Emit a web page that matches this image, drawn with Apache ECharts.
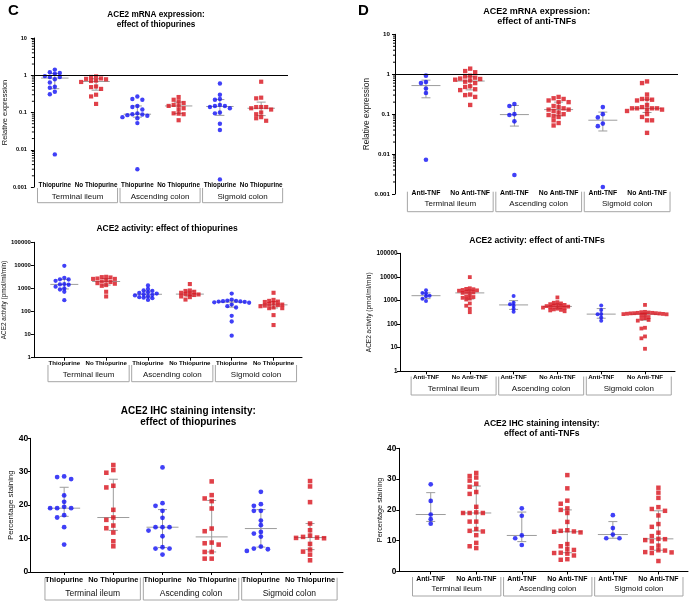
<!DOCTYPE html>
<html><head><meta charset="utf-8">
<script src="https://cdn.jsdelivr.net/npm/echarts@6/dist/echarts.min.js"></script>
<style>html,body{margin:0;padding:0;background:#fff}#c{width:689px;height:601px}</style>
</head><body><div id="c"></div>
<script>
// ---------------- data ----------------
const regions = ['Terminal ileum', 'Ascending colon', 'Sigmoid colon'];
const catsThio = ['Thiopurine', 'No Thiopurine', 'Thiopurine', 'No Thiopurine', 'Thiopurine', 'No Thiopurine'];
const catsTNF = ['Anti-TNF', 'No Anti-TNF', 'Anti-TNF', 'No Anti-TNF', 'Anti-TNF', 'No Anti-TNF'];

const ticksMrna = [0.001, 0.01, 0.1, 1, 10];
const ticksAct = [1, 10, 100, 1000, 10000, 100000];
const ticksIhc = [0, 10, 20, 30, 40];

// ACE2 mRNA expression, thiopurines (TI yes/no, AC yes/no, SC yes/no)
const mrnaThio = [
  [1.42, 1.2, 1.15, 1.1, 0.95, 0.9, 0.9, 0.78, 0.64, 0.49, 0.46, 0.36, 0.31, 0.0075],
  [0.93, 0.9, 0.82, 0.8, 0.78, 0.72, 0.7, 0.66, 0.5, 0.48, 0.43, 0.3, 0.27, 0.17],
  [0.27, 0.23, 0.22, 0.15, 0.14, 0.12, 0.095, 0.09, 0.088, 0.085, 0.082, 0.075, 0.07, 0.052, 0.003],
  [0.26, 0.22, 0.2, 0.18, 0.16, 0.155, 0.15, 0.13, 0.12, 0.095, 0.093, 0.09, 0.062],
  [0.6, 0.3, 0.23, 0.22, 0.16, 0.15, 0.15, 0.14, 0.13, 0.1, 0.095, 0.05, 0.034, 0.0016],
  [0.67, 0.25, 0.24, 0.14, 0.14, 0.14, 0.13, 0.12, 0.1, 0.09, 0.075, 0.07, 0.06]
];
// ACE2 mRNA expression, anti-TNFs
const mrnaTNF = [
  [0.92, 0.64, 0.6, 0.44, 0.34, 0.0072],
  [1.38, 1.2, 1.12, 0.92, 0.88, 0.82, 0.78, 0.76, 0.73, 0.7, 0.65, 0.6, 0.5, 0.48, 0.42, 0.4, 0.31, 0.3, 0.27, 0.17],
  [0.18, 0.16, 0.1, 0.095, 0.066, 0.003],
  [0.27, 0.25, 0.24, 0.22, 0.2, 0.2, 0.16, 0.15, 0.14, 0.13, 0.13, 0.12, 0.11, 0.1, 0.095, 0.09, 0.085, 0.07, 0.06, 0.052],
  [0.15, 0.1, 0.083, 0.058, 0.05, 0.0015],
  [0.66, 0.6, 0.31, 0.24, 0.24, 0.23, 0.22, 0.17, 0.15, 0.14, 0.14, 0.14, 0.14, 0.13, 0.13, 0.12, 0.1, 0.085, 0.07, 0.07, 0.034]
];
// ACE2 activity (pmol/ml/min), thiopurines
const actThio = [
  [9600, 2900, 2500, 2450, 2150, 1550, 1500, 1450, 1200, 1000, 900, 720, 310],
  [3200, 3100, 3000, 2700, 2600, 2600, 2200, 2000, 1900, 1700, 1600, 1400, 1300, 720, 450],
  [1350, 950, 820, 780, 680, 640, 600, 560, 530, 500, 460, 420, 400, 380, 320],
  [1550, 820, 780, 720, 650, 580, 560, 550, 520, 450, 420, 330],
  [600, 330, 300, 290, 280, 275, 270, 260, 250, 240, 200, 170, 150, 65, 37, 9],
  [650, 320, 290, 270, 260, 230, 210, 200, 190, 180, 170, 150, 140, 140, 70, 26]
];
// ACE2 activity (pmol/ml/min), anti-TNFs
const actTNF = [
  [2700, 2100, 2000, 1600, 1500, 1200, 950],
  [9800, 3300, 3100, 3000, 2800, 2700, 2600, 2400, 2300, 2200, 2100, 1700, 1500, 1400, 1300, 1200, 1100, 750, 600, 450, 320],
  [1550, 800, 700, 600, 450, 330],
  [1350, 850, 800, 750, 700, 650, 620, 600, 580, 560, 550, 520, 500, 480, 450, 420, 400, 380, 350],
  [620, 400, 270, 260, 190, 140],
  [650, 330, 320, 310, 300, 300, 290, 290, 285, 280, 275, 270, 265, 260, 250, 240, 200, 180, 170, 150, 140, 70, 65, 30, 25, 9]
];
// ACE2 IHC percentage staining, thiopurines
const ihcThio = [
  [28.6, 28.4, 27.8, 22.9, 21, 19.5, 19.1, 19.1, 19.1, 17, 16.3, 13.4, 8.2],
  [32, 30.5, 29.7, 25.8, 25.3, 18.6, 16.3, 15.6, 13.9, 13.1, 11.8, 9.2, 7.7],
  [31.3, 20.6, 19.8, 18.3, 16.2, 13.4, 13.4, 13.4, 12.4, 10.7, 7.4, 7, 7, 5.2],
  [27.1, 23, 22, 21.2, 19, 13, 12.2, 8.8, 8.6, 8.2, 6, 6, 4, 4],
  [24, 20.3, 19.8, 18.3, 18.3, 15.4, 14, 12, 11.5, 10.6, 7.6, 7, 6.8, 6.3],
  [27.2, 25.6, 20.9, 14.5, 12.5, 10.9, 10.5, 10.3, 10.2, 10.1, 8.4, 6.7, 6.1, 5.2, 3.5]
];
// ACE2 IHC percentage staining, anti-TNFs
const ihcTNF = [
  [28.3, 22.9, 18.5, 17, 15.5],
  [32, 31, 30.5, 29.5, 28.5, 27.5, 25.8, 25.2, 21, 19.2, 19, 19, 19, 16.2, 16.2, 13.8, 13.2, 13, 11.8, 9.3, 8.2, 7.6],
  [20.5, 18.1, 11.7, 10.8, 8.6],
  [31.3, 27, 23, 22, 20.5, 20, 19, 16.1, 13.4, 13.2, 13, 12.9, 12.7, 8.9, 8.2, 7.3, 7, 6.1, 6, 5.8, 5.2, 4, 3.8],
  [18.3, 14.1, 12, 10.8, 10.8],
  [27.2, 25.6, 23.9, 20.9, 20.3, 19.7, 18.2, 15.4, 14.5, 12.6, 11.5, 10.6, 10.5, 10.2, 9.8, 8.4, 7.6, 6.9, 6.8, 6.3, 6.2, 6, 3.4]
];

// ---------------- layout / style ----------------
const FONT = '"Liberation Sans", Arial, sans-serif';
const BLUE = '#1010f5', RED = '#d8121c', GRAY = '#9c9c9c', BOXC = '#a6a6a6';

const panels = [
  {cats: catsThio, values: mrnaThio, ticks: ticksMrna, log: true, ref: 1, minor: true,
   grid: {left: 33, top: 38, width: 255, height: 149}, xMin: -0.507, xMax: 5.65, xLine: false,
   title: 'ACE2 mRNA expression:\neffect of thiopurines', tx: 156, ty: 10, tSize: 8.2, tLH: 10,
   yName: 'Relative expression', yNameSize: 7.5, yNameGap: 24, yLabMargin: 7,
   tickSize: 5.6, catSize: 6.3, catMargin: -5,
   box: {top: 1, bot: 15.7, lab: 9.7, shift: 0.05, size: 8},
   sym: 4.4, sx: 5.0, vf: 0.9, medHW: 13.7},
  {cats: catsTNF, values: mrnaTNF, ticks: ticksMrna, log: true, ref: 1, minor: true,
   grid: {left: 395, top: 34.3, width: 283, height: 159.7}, xMin: -0.70, xMax: 5.70, xLine: false,
   title: 'ACE2 mRNA expression:\neffect of anti-TNFs', tx: 536.7, ty: 6.7, tSize: 9, tLH: 10,
   yName: 'Relative expression', yNameSize: 8.3, yNameGap: 20, yLabMargin: 5,
   tickSize: 6.2, catSize: 6.8, catMargin: -4,
   box: {top: -2.3, bot: 17.7, lab: 10, shift: 0.05, size: 8},
   sym: 4.6, sx: 5.0, vf: 0.9, medHW: 14.5},
  {cats: catsThio, values: actThio, ticks: ticksAct, log: true,
   grid: {left: 31, top: 242.3, width: 271, height: 115.4}, xMin: -0.726, xMax: 5.68, xLine: true,
   title: 'ACE2 activity: effect of thiopurines', tx: 167, ty: 224, tSize: 8.5, tLH: 10,
   yName: 'ACE2 activity (pmol/ml/min)', yNameSize: 6.4, yNameGap: 25.5, yLabMargin: 3,
   tickSize: 6, catSize: 6.1, catMargin: 2.5,
   box: {top: 7.3, bot: 24, lab: 17.3, shift: 0.08, size: 8},
   sym: 4.3, sx: 4.4, vf: 0.75, medHW: 14},
  {cats: catsTNF, values: actTNF, ticks: ticksAct, log: true,
   grid: {left: 400, top: 253.3, width: 275, height: 118}, xMin: -0.594, xMax: 5.685, xLine: true,
   title: 'ACE2 activity: effect of anti-TNFs', tx: 537, ty: 235.7, tSize: 8.6, tLH: 10,
   yName: 'ACE2 activity (pmol/ml/min)', yNameSize: 6.5, yNameGap: 25, yLabMargin: 2.5,
   tickSize: 6.3, catSize: 6.2, catMargin: 2.5,
   box: {top: 5.2, bot: 23.7, lab: 17.3, shift: 0.13, size: 8},
   sym: 4.0, sx: 3.6, vf: 0.7, medHW: 14.5},
  {cats: catsThio, values: ihcThio, ticks: ticksIhc, log: false, interval: 10,
   grid: {left: 30.7, top: 438.3, width: 312.3, height: 133.7}, xMin: -0.68, xMax: 5.67, xLine: true,
   title: 'ACE2 IHC staining intensity:\neffect of thiopurines', tx: 188.3, ty: 405.4, tSize: 10, tLH: 11.3,
   yName: 'Percentage staining', yNameSize: 7.9, yNameGap: 15, yLabMargin: 2.5,
   tickSize: 8.5, catSize: 7.4, catMargin: 4.5,
   box: {top: 5.7, bot: 28, lab: 21.3, shift: 0.08, size: 8.5},
   sym: 4.8, sx: 7, vf: 0.95, medHW: 16},
  {cats: catsTNF, values: ihcTNF, ticks: ticksIhc, log: false, interval: 10,
   grid: {left: 399.3, top: 448.3, width: 288.7, height: 123.2}, xMin: -0.69, xMax: 5.65, xLine: true,
   title: 'ACE2 IHC staining intensity:\neffect of anti-TNFs', tx: 541.7, ty: 418.3, tSize: 8.6, tLH: 10,
   yName: 'Percentage staining', yNameSize: 7.3, yNameGap: 14, yLabMargin: 3,
   tickSize: 8.3, catSize: 6.9, catMargin: 4,
   box: {top: 5.5, bot: 24.5, lab: 17.5, shift: 0.07, size: 7.8},
   sym: 4.7, sx: 6.6, vf: 0.95, medHW: 15}
];

// ---------------- helpers ----------------
function pct(sorted, p) {
  const n = sorted.length;
  let r = p * (n + 1);
  if (r < 1) r = 1;
  if (r > n) r = n;
  const lo = Math.floor(r), hi = Math.ceil(r);
  return sorted[lo - 1] + (r - lo) * (sorted[hi - 1] - sorted[lo - 1]);
}
function yFrac(p, v) {
  const lo = p.ticks[0], hi = p.ticks[p.ticks.length - 1];
  return p.log ? (Math.log10(v) - Math.log10(lo)) / (Math.log10(hi) - Math.log10(lo)) : (v - lo) / (hi - lo);
}
// Dot-plot layout: each point goes to the nearest free column slot (0, -1, +1, -2, ...)
// where it does not overlap an already placed point vertically.
function swarm(vals, p) {
  const H = p.grid.height;
  const pts = vals.map(v => ({v: v, y: H * (1 - yFrac(p, v))})).sort((a, b) => a.y - b.y);
  const placed = [];
  const order = [0, -1, 1, -2, 2, -3, 3, -4, 4, -5, 5, -6, 6, -7, 7];
  pts.forEach(pt => {
    for (const s of order) {
      if (!placed.some(q => q.s === s && Math.abs(q.y - pt.y) < p.sym * p.vf)) { pt.s = s; break; }
    }
    placed.push(pt);
    pt.dx = pt.s * p.sx;
  });
  return pts;
}
const fmtTick = v => String(+Number(v).toPrecision(4));

// ---------------- option ----------------
const option = {animation: false, backgroundColor: '#fff', title: [], grid: [], xAxis: [], yAxis: [], series: []};
option.title.push({text: 'C', left: 8, top: 3, padding: 0, textStyle: {fontSize: 15, fontWeight: 'bold', fontFamily: FONT, color: '#000'}});
option.title.push({text: 'D', left: 358, top: 3, padding: 0, textStyle: {fontSize: 15, fontWeight: 'bold', fontFamily: FONT, color: '#000'}});

panels.forEach((p, i) => {
  const yMin = p.ticks[0], yMax = p.ticks[p.ticks.length - 1];
  const stepPx = p.grid.width / (p.xMax - p.xMin);
  option.title.push({text: p.title, left: p.tx, top: p.ty, padding: 0, textAlign: 'center',
    textStyle: {fontSize: p.tSize, fontWeight: 'bold', lineHeight: p.tLH, fontFamily: FONT, color: '#000'}});
  option.grid.push({left: p.grid.left, top: p.grid.top, width: p.grid.width, height: p.grid.height});
  option.xAxis.push({type: 'value', gridIndex: i, min: p.xMin, max: p.xMax,
    splitLine: {show: false},
    axisLine: {show: p.xLine, onZero: false, lineStyle: {color: '#000', width: 1}},
    axisTick: {show: p.xLine, customValues: [0, 1, 2, 3, 4, 5], length: 3, lineStyle: {color: '#000'}},
    axisLabel: {customValues: [0, 1, 2, 3, 4, 5], formatter: v => p.cats[Math.round(v)],
      fontSize: p.catSize, fontWeight: 'bold', fontFamily: FONT, color: '#000', margin: p.catMargin}});
  const ya = {type: p.log ? 'log' : 'value', gridIndex: i, min: yMin, max: yMax,
    splitLine: {show: false},
    axisLine: {show: true, onZero: false, lineStyle: {color: '#000', width: 1}},
    axisTick: {show: true, length: 3, lineStyle: {color: '#000'}},
    axisLabel: {formatter: fmtTick, fontSize: p.tickSize, fontWeight: 'bold', fontFamily: FONT, color: '#000', margin: p.yLabMargin},
    name: p.yName, nameLocation: 'middle', nameGap: p.yNameGap, nameRotate: 90,
    nameTextStyle: {fontSize: p.yNameSize, fontFamily: FONT, color: '#111'}};
  if (p.log) ya.logBase = 10; else ya.interval = p.interval;
  option.yAxis.push(ya);

  // scatter points
  const blue = [], red = [], stats = [];
  p.values.forEach((vals, g) => {
    swarm(vals, p).forEach(pt => {
      (g % 2 === 0 ? blue : red).push([g + pt.dx / stepPx, pt.v]);
    });
    const s = vals.slice().sort((a, b) => a - b);
    stats.push([g, pct(s, 0.5), pct(s, 0.25), pct(s, 0.75)]);
  });

  // median + interquartile range
  option.series.push({type: 'custom', xAxisIndex: i, yAxisIndex: i, z: 1, clip: false, silent: true,
    encode: {x: 0, y: [1, 2, 3]}, data: stats,
    renderItem: (params, api) => {
      const x = api.value(0);
      const c = api.coord([x, api.value(1)]);
      const a = api.coord([x, api.value(2)]);
      const b = api.coord([x, api.value(3)]);
      const st = {stroke: GRAY, lineWidth: 1};
      const cap = 4.5;
      return {type: 'group', children: [
        {type: 'line', shape: {x1: c[0] - p.medHW, y1: c[1], x2: c[0] + p.medHW, y2: c[1]}, style: st},
        {type: 'line', shape: {x1: a[0], y1: a[1], x2: b[0], y2: b[1]}, style: st},
        {type: 'line', shape: {x1: a[0] - cap, y1: a[1], x2: a[0] + cap, y2: a[1]}, style: st},
        {type: 'line', shape: {x1: b[0] - cap, y1: b[1], x2: b[0] + cap, y2: b[1]}, style: st}
      ]};
    }});

  const blueSeries = {type: 'scatter', xAxisIndex: i, yAxisIndex: i, z: 3, symbol: 'circle', symbolSize: p.sym,
    itemStyle: {color: BLUE}, data: blue, silent: true};
  if (p.ref !== undefined) {
    blueSeries.markLine = {silent: true, symbol: ['none', 'none'], label: {show: false},
      lineStyle: {color: '#000', width: 1, type: 'solid'}, data: [{yAxis: p.ref}]};
  }
  option.series.push(blueSeries);
  option.series.push({type: 'scatter', xAxisIndex: i, yAxisIndex: i, z: 3, symbol: 'rect', symbolSize: p.sym * 0.95,
    itemStyle: {color: RED}, data: red, silent: true});

  // region boxes below the category labels
  option.series.push({type: 'custom', xAxisIndex: i, yAxisIndex: i, z: 1, clip: false, silent: true,
    encode: {x: 0, y: 1}, data: regions.map((r, k) => [2 * k + 0.5, yMin]),
    renderItem: (params, api) => {
      const k = params.dataIndex, b = p.box, gap = 0.03;
      const l = api.coord([2 * k - 0.5 + b.shift + gap, yMin]);
      const r = api.coord([2 * k + 1.5 + b.shift - gap, yMin]);
      const y0 = l[1];
      return {type: 'group', children: [
        {type: 'polyline', shape: {points: [[l[0], y0 + b.top], [l[0], y0 + b.bot], [r[0], y0 + b.bot], [r[0], y0 + b.top]]},
          style: {stroke: BOXC, fill: null, lineWidth: 1}},
        {type: 'text', style: {text: regions[k], x: (l[0] + r[0]) / 2, y: y0 + b.lab,
          textAlign: 'center', textVerticalAlign: 'middle', align: 'center', verticalAlign: 'middle',
          fontSize: b.size, fontFamily: FONT, fill: '#111'}}
      ]};
    }});

  // log-spaced minor ticks
  if (p.minor) {
    const mv = [];
    for (let d = yMin; d < yMax * 0.999; d *= 10) for (let m = 2; m <= 9; m++) mv.push([p.xMin, +(m * d).toPrecision(3)]);
    option.series.push({type: 'custom', xAxisIndex: i, yAxisIndex: i, z: 1, clip: false, silent: true,
      encode: {x: 0, y: 1}, data: mv,
      renderItem: (params, api) => {
        const c = api.coord([api.value(0), api.value(1)]);
        return {type: 'line', shape: {x1: c[0] - 2, y1: c[1], x2: c[0], y2: c[1]}, style: {stroke: '#000', lineWidth: 1}};
      }});
  }
});

const chart = echarts.init(document.getElementById('c'), null, {renderer: 'canvas'});
chart.setOption(option);
</script>
</body></html>
